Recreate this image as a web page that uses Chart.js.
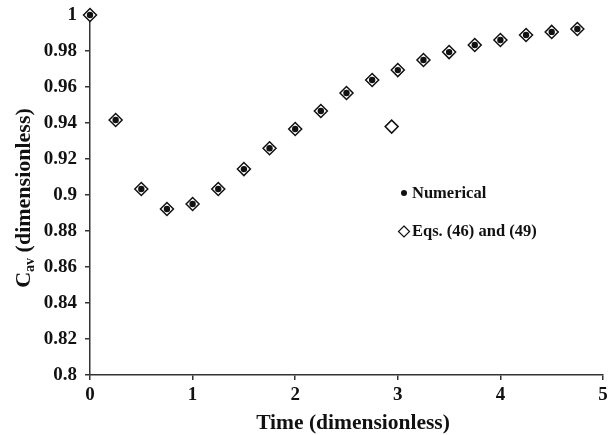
<!DOCTYPE html>
<html>
<head>
<meta charset="utf-8">
<script src="https://cdn.jsdelivr.net/npm/chart.js@4/dist/chart.umd.min.js"></script>
<style>
  html, body { margin: 0; padding: 0; background: #fff; }
  #wrap { width: 611px; height: 435px; position: relative; }
</style>
</head>
<body>
<div id="wrap"><canvas id="c" width="611" height="435"></canvas></div>
<script>
const times = [0, 0.25, 0.5, 0.75, 1, 1.25, 1.5, 1.75, 2, 2.25, 2.5, 2.75, 3, 3.25, 3.5, 3.75, 4, 4.25, 4.5, 4.75];
const numerical = [1.0, 0.9417, 0.9033, 0.8922, 0.895, 0.9033, 0.9144, 0.926, 0.9367, 0.9467, 0.9567, 0.9639, 0.9694, 0.975, 0.9794, 0.9833, 0.9861, 0.9889, 0.9906, 0.9922];
const equations = [1.0, 0.9417, 0.9033, 0.8922, 0.895, 0.9033, 0.9144, 0.926, 0.9367, 0.9467, 0.9567, 0.9639, 0.9694, 0.975, 0.9794, 0.9833, 0.9861, 0.9889, 0.9906, 0.9922];
const strayTime = [2.94];
const strayValue = [0.938];
const yTicks = [0.8, 0.82, 0.84, 0.86, 0.88, 0.9, 0.92, 0.94, 0.96, 0.98, 1];
const xTicks = [0, 1, 2, 3, 4, 5];
const legendLabels = ['Numerical', 'Eqs. (46) and (49)'];

const FONT = '"Liberation Serif", "Times New Roman", serif';

const numPts = times.map((t, i) => ({x: t, y: numerical[i]}));
const eqPts = times.map((t, i) => ({x: t, y: equations[i]}))
  .concat(strayTime.map((t, i) => ({x: t, y: strayValue[i]})));

const overlay = {
  id: 'overlay',
  afterDraw(chart) {
    const ctx = chart.ctx;
    ctx.save();
    ctx.fillStyle = '#111';
    // x title
    ctx.font = 'bold 21.5px ' + FONT;
    ctx.textAlign = 'center';
    ctx.textBaseline = 'middle';
    ctx.fillText('Time (dimensionless)', 353, 423);
    // y title with subscript
    ctx.translate(22, 198);
    ctx.rotate(-Math.PI / 2);
    const main = 'C';
    const sub = 'av';
    const rest = ' (dimensionless)';
    ctx.font = 'bold 22px ' + FONT;
    const wC = ctx.measureText(main).width;
    const wR = ctx.measureText(rest).width;
    ctx.font = 'bold 14px ' + FONT;
    const wS = ctx.measureText(sub).width;
    const total = wC + wS + wR;
    const x0 = -total / 2;
    ctx.textAlign = 'left';
    ctx.textBaseline = 'alphabetic';
    ctx.font = 'bold 22px ' + FONT;
    ctx.fillText(main, x0, 8);
    ctx.font = 'bold 14px ' + FONT;
    ctx.fillText(sub, x0 + wC, 12);
    ctx.font = 'bold 22px ' + FONT;
    ctx.fillText(rest, x0 + wC + wS, 8);
    ctx.restore();

    // legend
    ctx.save();
    ctx.fillStyle = '#111';
    ctx.beginPath();
    ctx.arc(404, 193, 3, 0, Math.PI * 2);
    ctx.fill();
    ctx.strokeStyle = '#111';
    ctx.lineWidth = 1.2;
    ctx.beginPath();
    ctx.moveTo(404, 226); ctx.lineTo(409.5, 231.5); ctx.lineTo(404, 237); ctx.lineTo(398.5, 231.5); ctx.closePath();
    ctx.stroke();
    ctx.font = 'bold 16.5px ' + FONT;
    ctx.textAlign = 'left';
    ctx.textBaseline = 'middle';
    ctx.fillText(legendLabels[0], 412, 194);
    ctx.fillText(legendLabels[1], 412, 232);
    ctx.restore();
  }
};

new Chart(document.getElementById('c'), {
  type: 'scatter',
  data: {
    datasets: [
      {
        label: legendLabels[0],
        data: numPts,
        pointStyle: 'circle',
        pointRadius: 3.2,
        pointBackgroundColor: '#111',
        pointBorderColor: '#111',
        pointBorderWidth: 0,
        showLine: false,
        clip: false,
        order: 0
      },
      {
        label: legendLabels[1],
        data: eqPts,
        pointStyle: 'rectRot',
        pointRadius: 6.5,
        pointBackgroundColor: '#ffffff',
        pointBorderColor: '#111',
        pointBorderWidth: 1.5,
        showLine: false,
        clip: false,
        order: 1
      }
    ]
  },
  options: {
    responsive: false,
    animation: false,
    devicePixelRatio: 1,
    layout: { padding: { left: 0, right: 5, top: 15, bottom: 0 } },
    plugins: { legend: { display: false }, tooltip: { enabled: false } },
    scales: {
      x: {
        type: 'linear',
        min: 0, max: 5,
        afterBuildTicks(s) { s.ticks = xTicks.map(v => ({value: v})); },
        afterFit(s) { s.height = 60; s.paddingLeft = 0; s.paddingRight = 0; },
        border: { display: true, color: '#333', width: 1.5 },
        grid: { display: true, drawOnChartArea: false, drawTicks: true, tickLength: 5, color: '#333', lineWidth: 1.5 },
        ticks: {
          color: '#111',
          font: { family: FONT, size: 19, weight: 'bold' },
          padding: 4,
          maxRotation: 0,
          callback: v => String(v)
        }
      },
      y: {
        type: 'linear',
        min: 0.8, max: 1,
        afterBuildTicks(s) { s.ticks = yTicks.map(v => ({value: v})); },
        afterFit(s) { s.width = 90; s.paddingTop = 0; s.paddingBottom = 0; },
        border: { display: true, color: '#333', width: 1.5 },
        grid: { display: true, drawOnChartArea: false, drawTicks: true, tickLength: 5, color: '#333', lineWidth: 1.5 },
        ticks: {
          color: '#111',
          font: { family: FONT, size: 19, weight: 'bold' },
          padding: 8,
          callback: v => String(+v.toFixed(2))
        }
      }
    }
  },
  plugins: [overlay]
});
</script>
</body>
</html>
